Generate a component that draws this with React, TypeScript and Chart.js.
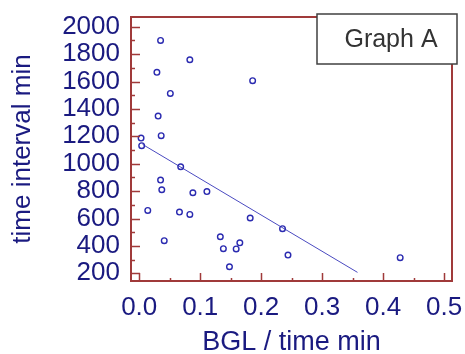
import React, { useEffect, useRef } from "react";
import { Chart, registerables } from "chart.js";

Chart.register(...registerables);

const BGL = [0.035, 0.083, 0.029, 0.186, 0.051, 0.031, 0.036, 0.003, 0.004, 0.068, 0.035, 0.037, 0.088, 0.111, 0.014, 0.066, 0.083, 0.182, 0.235, 0.041, 0.133, 0.138, 0.159, 0.165, 0.244, 0.148, 0.428];
const INTERVAL = [1900, 1759, 1667, 1606, 1513, 1348, 1205, 1187, 1132, 978, 881, 810, 788, 797, 659, 647, 630, 604, 526, 438, 467, 380, 378, 423, 333, 248, 314];
const FIT_X = [0.0055, 0.358];
const FIT_Y = [1141, 207];
const X_TICKS = [0, 0.1, 0.2, 0.3, 0.4, 0.5];
const X_MINOR = [0.05, 0.15, 0.25, 0.35, 0.45];
const Y_TICKS = [200, 400, 600, 800, 1000, 1200, 1400, 1600, 1800, 2000];
const Y_MINOR = [300, 500, 700, 900, 1100, 1300, 1500, 1700, 1900];
const X_TITLE = "BGL / time min";
const Y_TITLE = "time interval min";
const BOX_LABEL = "Graph A";

const FONT = "'Liberation Sans', Arial, sans-serif";
const NAVY = "#1a1a80";
const FRAME = "#a03a3a";

const framePlugin = {
  id: "frame",
  afterDatasetsDraw(chart: any) {
    const { ctx, chartArea: a, scales } = chart;
    ctx.save();
    ctx.strokeStyle = FRAME;
    ctx.lineWidth = 2;
    ctx.strokeRect(a.left, a.top, a.right - a.left, a.bottom - a.top);
    ctx.beginPath();
    Y_TICKS.forEach((v) => {
      const y = Math.round(scales.y.getPixelForValue(v)) + 0.5;
      ctx.moveTo(a.left, y);
      ctx.lineTo(a.left + 9, y);
    });
    Y_MINOR.forEach((v) => {
      const y = Math.round(scales.y.getPixelForValue(v)) + 0.5;
      ctx.moveTo(a.left, y);
      ctx.lineTo(a.left + 4, y);
    });
    X_TICKS.forEach((v) => {
      const x = Math.round(scales.x.getPixelForValue(v)) + 0.5;
      ctx.moveTo(x, a.bottom);
      ctx.lineTo(x, a.bottom - 8);
    });
    X_MINOR.forEach((v) => {
      const x = Math.round(scales.x.getPixelForValue(v)) + 0.5;
      ctx.moveTo(x, a.bottom);
      ctx.lineTo(x, a.bottom - 3);
    });
    ctx.lineWidth = 1.5;
    ctx.stroke();
    ctx.restore();
  },
  afterDraw(chart: any) {
    const { ctx, chartArea: a } = chart;
    const x0 = a.right - 135;
    const y0 = a.top - 3;
    const w = 140;
    const h = 50;
    ctx.save();
    ctx.fillStyle = "#ffffff";
    ctx.fillRect(x0, y0, w, h);
    ctx.strokeStyle = "#404040";
    ctx.lineWidth = 1.5;
    ctx.strokeRect(x0, y0, w, h);
    ctx.fillStyle = "#333333";
    ctx.font = `25px ${FONT}`;
    ctx.textAlign = "center";
    ctx.textBaseline = "middle";
    ctx.fillText(BOX_LABEL, x0 + w / 2 + 4, y0 + h / 2 + 1);
    ctx.restore();
  },
};

export default function App() {
  const ref = useRef<HTMLCanvasElement>(null);
  useEffect(() => {
    const chart = new Chart(ref.current as HTMLCanvasElement, {
      type: "scatter",
      data: {
        datasets: [
          {
            type: "scatter",
            data: BGL.map((x, i) => ({ x, y: INTERVAL[i] })),
            pointStyle: "circle",
            pointRadius: 2.8,
            pointBorderWidth: 1.4,
            pointBackgroundColor: "rgba(255,255,255,0)",
            pointBorderColor: "#2a2ab0",
          },
          {
            type: "line",
            data: FIT_X.map((x, i) => ({ x, y: FIT_Y[i] })),
            borderColor: "#4a4ac0",
            borderWidth: 1,
            pointRadius: 0,
            fill: false,
          } as any,
        ],
      },
      options: {
        animation: false,
        responsive: false,
        layout: { padding: { top: 17, right: 13, left: 0, bottom: 0 } },
        plugins: { legend: { display: false }, tooltip: { enabled: false } },
        scales: {
          x: {
            type: "linear",
            min: -0.0135,
            max: 0.513,
            grid: { display: false, drawTicks: false },
            border: { display: false },
            afterBuildTicks: (s: any) => {
              s.ticks = X_TICKS.map((value) => ({ value }));
            },
            afterFit: (s: any) => {
              s.height = 73;
              s.paddingLeft = 0;
              s.paddingRight = 0;
              s.paddingTop = 0;
              s.paddingBottom = 0;
            },
            ticks: {
              padding: 11,
              color: NAVY,
              font: { family: FONT, size: 26 },
              maxRotation: 0,
              autoSkip: false,
              callback: (v: any) => Number(v).toFixed(1),
            },
            title: {
              display: true,
              text: X_TITLE,
              color: NAVY,
              font: { family: FONT, size: 27, lineHeight: 0.84 },
              padding: 0,
            },
          },
          y: {
            type: "linear",
            min: 144,
            max: 2071,
            grid: { display: false, drawTicks: false },
            border: { display: false },
            afterBuildTicks: (s: any) => {
              s.ticks = Y_TICKS.map((value) => ({ value }));
            },
            afterFit: (s: any) => {
              s.width = 131;
              s.paddingLeft = 0;
              s.paddingRight = 0;
              s.paddingTop = 0;
              s.paddingBottom = 0;
            },
            ticks: {
              padding: 11,
              color: NAVY,
              font: { family: FONT, size: 26 },
              autoSkip: false,
              callback: (v: any) => String(v),
            },
            title: {
              display: true,
              text: Y_TITLE,
              color: NAVY,
              font: { family: FONT, size: 26 },
              padding: { top: 7, bottom: 0 },
            },
          },
        },
      },
      plugins: [framePlugin],
    });
    return () => chart.destroy();
  }, []);
  return (
    <div style={{ position: "absolute", left: 0, top: 0, width: 465, height: 354, background: "#fff" }}>
      <canvas ref={ref} width={465} height={354} />
    </div>
  );
}
